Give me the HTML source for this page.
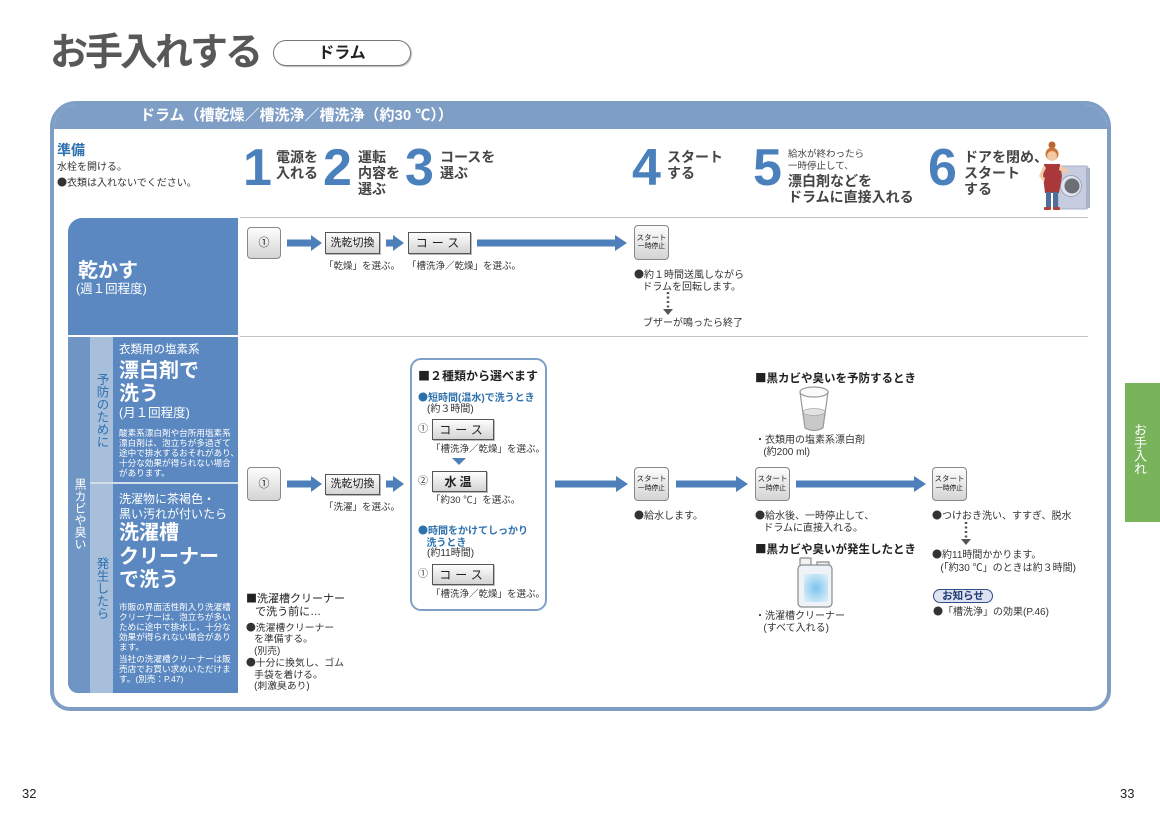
<!DOCTYPE html>
<html><head><meta charset="utf-8">
<style>
*{margin:0;padding:0;box-sizing:border-box}
body{width:1160px;height:820px;position:relative;overflow:hidden;background:#fff;font-family:"Liberation Sans","Noto Sans CJK JP",sans-serif;color:#333}
.t{position:absolute;white-space:nowrap;line-height:1}
.b{font-weight:bold}
.w{color:#fff}
.bl{color:#2c70ad}
.d{font-family:"Noto Sans CJK JP",sans-serif}
.btn{position:absolute;border:1px solid #555;background:linear-gradient(#fdfdfd,#d4d4d4);display:flex;align-items:center;justify-content:center;font-size:11px;color:#222;white-space:nowrap;line-height:1;box-shadow:1px 1px 0 #bbb}
.sq{border-color:#888;border-radius:4px;box-shadow:none}
.st{flex-direction:column;gap:3px}
.st span:first-child{font-size:7.5px}
.st span:last-child{font-size:6.8px}
.num{position:absolute;font-family:"Liberation Sans",sans-serif;font-weight:bold;font-size:52px;line-height:1;color:#4a80bb}
.vt{position:absolute;writing-mode:vertical-rl;line-height:1;white-space:nowrap}
</style></head><body>

<!-- Title -->
<div class="t b" style="left:50px;top:34px;font-size:38px;letter-spacing:-3px;color:#585858">お手入れする</div>
<div style="position:absolute;left:273px;top:40px;width:138px;height:26px;border:1.5px solid #777;border-radius:13px;box-shadow:1px 1px 1px #bbb"></div>
<div class="t b" style="left:273px;top:45.5px;width:138px;text-align:center;font-size:16px;color:#222">ドラム</div>

<!-- Frame -->
<div style="position:absolute;left:50px;top:101px;width:1061px;height:610px;border:4px solid #7f9ec6;border-radius:26px 26px 20px 20px;overflow:hidden;background:#fff">
  <div style="position:absolute;left:0;top:0;right:0;height:24px;background:#7f9ec6"></div>
</div>
<div class="t b w" style="left:140px;top:108px;font-size:15px">ドラム（槽乾燥／槽洗浄／槽洗浄（約30 ℃））</div>

<!-- Left columns -->
<div style="position:absolute;left:68px;top:218px;width:170px;height:117px;background:#5b88c1;border-top-left-radius:14px"></div>
<div style="position:absolute;left:68px;top:337px;width:22px;height:356px;background:#6f95c5;border-bottom-left-radius:10px"></div>
<div style="position:absolute;left:90px;top:337px;width:23px;height:356px;background:#a8bfdc"></div>
<div style="position:absolute;left:113px;top:337px;width:125px;height:356px;background:#5b88c1"></div>
<div style="position:absolute;left:90px;top:482px;width:148px;height:2px;background:#d3deec"></div>

<!-- Graphics -->
<svg width="1160" height="820" style="position:absolute;left:0;top:0" xmlns="http://www.w3.org/2000/svg">
  <g stroke="#c4c4c4" stroke-width="1">
    <line x1="240" y1="217.5" x2="1088" y2="217.5"/>
    <line x1="240" y1="336.5" x2="1088" y2="336.5"/>
  </g>
  <g fill="#4d80ba">
    <rect x="287" y="239.5" width="25" height="7"/><polygon points="311,235 322,243 311,251"/>
    <rect x="386" y="239.5" width="8" height="7"/><polygon points="393,235 404,243 393,251"/>
    <rect x="477" y="239.5" width="139" height="7"/><polygon points="615,235 627,243 615,251"/>
    <rect x="287" y="480.5" width="25" height="7"/><polygon points="311,476 322,484 311,492"/>
    <rect x="386" y="480.5" width="8" height="7"/><polygon points="393,476 404,484 393,492"/>
    <rect x="555" y="480.5" width="62" height="7"/><polygon points="616,476 628,484 616,492"/>
    <rect x="676" y="480.5" width="61" height="7"/><polygon points="736,476 748,484 736,492"/>
    <rect x="796" y="480.5" width="119" height="7"/><polygon points="914,476 926,484 914,492"/>
    <polygon points="452,458 466,458 459,465"/>
  </g>
  <rect x="411" y="359" width="135" height="251" rx="10" fill="none" stroke="#7fa0c8" stroke-width="2"/>
  <g stroke="#555" stroke-width="2.5" stroke-dasharray="2 2.5">
    <line x1="668" y1="292" x2="668" y2="308"/>
    <line x1="966" y1="522" x2="966" y2="538"/>
  </g>
  <g fill="#555">
    <polygon points="663,309 673,309 668,315"/>
    <polygon points="961,539 971,539 966,545"/>
  </g>
  <g>
    <path d="M803,412 L805,428 Q814,433 823,428 L825,412 Z" fill="#c9c9c9"/>
    <ellipse cx="814" cy="412" rx="11" ry="3.5" fill="#e2e2e2" stroke="#aaa" stroke-width="0.8"/>
    <ellipse cx="814" cy="392" rx="14" ry="5" fill="#fafafa" stroke="#999" stroke-width="1.2"/>
    <line x1="800" y1="392" x2="805" y2="428" stroke="#999" stroke-width="1.2"/>
    <line x1="828" y1="392" x2="823" y2="428" stroke="#999" stroke-width="1.2"/>
    <path d="M805,428 Q814,433 823,428" fill="none" stroke="#999" stroke-width="1.2"/>
  </g>
  <defs>
    <radialGradient id="jg" cx="0.5" cy="0.5" r="0.6">
      <stop offset="0" stop-color="#7cc4ef"/><stop offset="1" stop-color="#d6ecf8"/>
    </radialGradient>
  </defs>
  <g stroke="#8a8a8a" stroke-width="1.2">
    <rect x="800" y="558" width="11" height="8" rx="1" fill="#f2f2f2"/>
    <path d="M817,562 h12 v10 h-4 v-6 h-8 z" fill="#f2f2f2"/>
    <rect x="798" y="565" width="34" height="42" rx="4" fill="#eef3f7"/>
    <rect x="804" y="574" width="24" height="28" rx="2" fill="url(#jg)" stroke="none"/>
  </g>
  <g>
    <rect x="1058" y="166" width="30" height="43" rx="2" fill="#c7cde0" stroke="#a7b0c8"/>
    <rect x="1086" y="168" width="4" height="40" fill="#aab2c8"/>
    <circle cx="1071" cy="186" r="10.5" fill="#dfe3ec" stroke="#9aa2b8" stroke-width="1"/>
    <circle cx="1072" cy="186" r="7.5" fill="#6d6d74"/>
    <circle cx="1052" cy="145" r="3.5" fill="#b8652e"/>
    <circle cx="1052" cy="154" r="6.5" fill="#c8763a"/>
    <circle cx="1052" cy="156" r="5" fill="#f2c9a2"/>
    <path d="M1044,164 L1060,164 L1062,176 L1059,193 L1045,193 L1043,176 Z" fill="#a8383a"/>
    <path d="M1060,165 L1069,171 L1067,174 L1059,170 Z" fill="#f2c9a2"/>
    <path d="M1044,165 L1039,176 L1044,182 L1045,178 L1042,176 L1046,168 Z" fill="#f2c9a2"/>
    <rect x="1046" y="192" width="5" height="16" fill="#4d6f9a"/>
    <rect x="1053" y="192" width="5" height="16" fill="#4d6f9a"/>
    <rect x="1044" y="207" width="7" height="3" rx="1" fill="#b0403a"/>
    <rect x="1053" y="207" width="7" height="3" rx="1" fill="#b0403a"/>
  </g>
</svg>

<!-- Header area -->
<div class="t b bl" style="left:57px;top:143px;font-size:14px">準備</div>
<div class="t" style="left:57px;top:162.5px;font-size:10px">水栓を開ける。</div>
<div class="t" style="left:57px;top:176.5px;font-size:10px"><span class="d">●</span>衣類は入れないでください。</div>

<div class="num" style="left:243px;top:141.5px">1</div>
<div class="t b" style="left:276px;top:149px;font-size:14px;line-height:16px;color:#444">電源を<br>入れる</div>
<div class="num" style="left:323px;top:141.5px">2</div>
<div class="t b" style="left:358px;top:149px;font-size:14px;line-height:16px;color:#444">運転<br>内容を<br>選ぶ</div>
<div class="num" style="left:405px;top:141.5px">3</div>
<div class="t b" style="left:440px;top:149px;font-size:14px;line-height:16px;color:#444">コースを<br>選ぶ</div>
<div class="num" style="left:632px;top:141.5px">4</div>
<div class="t b" style="left:667px;top:149px;font-size:14px;line-height:16px;color:#444">スタート<br>する</div>
<div class="num" style="left:753px;top:141.5px">5</div>
<div class="t" style="left:788px;top:149px;font-size:9.5px;line-height:12px;color:#444">給水が終わったら<br>一時停止して、</div>
<div class="t b" style="left:788px;top:173px;font-size:14px;line-height:16px;color:#444">漂白剤などを<br>ドラムに直接入れる</div>
<div class="num" style="left:928px;top:141.5px">6</div>
<div class="t b" style="left:964px;top:149px;font-size:14px;line-height:16px;color:#444">ドアを閉め、<br>スタート<br>する</div>

<!-- Left column texts -->
<div class="t b w" style="left:78px;top:260.5px;font-size:20px">乾かす</div>
<div class="t w" style="left:76px;top:283px;font-size:12.5px">(週１回程度)</div>

<div class="vt w" style="left:74px;top:478px;font-size:12px">黒カビや臭い</div>
<div class="vt bl" style="left:95px;top:373px;font-size:12.5px">予防のために</div>
<div class="vt bl" style="left:95px;top:557px;font-size:12.5px">発生したら</div>

<div class="t w" style="left:119px;top:344.5px;font-size:11.5px">衣類用の塩素系</div>
<div class="t b w" style="left:119px;top:359.5px;font-size:20px;line-height:23px">漂白剤で<br>洗う</div>
<div class="t w" style="left:119px;top:407px;font-size:12.5px">(月１回程度)</div>
<div class="t w" style="left:119px;top:428px;font-size:8.6px;line-height:10px">酸素系漂白剤や台所用塩素系<br>漂白剤は、泡立ちが多過ぎて<br>途中で排水するおそれがあり、<br>十分な効果が得られない場合<br>があります。</div>

<div class="t w" style="left:119px;top:491.5px;font-size:12px;line-height:15px">洗濯物に茶褐色・<br>黒い汚れが付いたら</div>
<div class="t b w" style="left:119px;top:522px;font-size:20px;line-height:23.5px">洗濯槽<br>クリーナー<br>で洗う</div>
<div class="t w" style="left:119px;top:602px;font-size:8.6px;line-height:10px">市販の界面活性剤入り洗濯槽<br>クリーナーは、泡立ちが多い<br>ために途中で排水し、十分な<br>効果が得られない場合があり<br>ます。</div>
<div class="t w" style="left:119px;top:654px;font-size:8.6px;line-height:10px">当社の洗濯槽クリーナーは販<br>売店でお買い求めいただけま<br>す。(別売：P.47)</div>

<!-- Row 1 -->
<div class="btn sq" style="left:247px;top:227px;width:34px;height:32px">①</div>
<div class="btn" style="left:325px;top:232px;width:55px;height:22px">洗乾切換</div>
<div class="btn" style="left:408px;top:232px;width:63px;height:22px;font-size:12px;letter-spacing:4px">コース</div>
<div class="btn sq st" style="left:634px;top:225px;width:35px;height:35px"><span>スタート</span><span>一時停止</span></div>
<div class="t" style="left:324px;top:261.5px;font-size:9.5px">「乾燥」を選ぶ。</div>
<div class="t" style="left:407px;top:261.5px;font-size:9.5px">「槽洗浄／乾燥」を選ぶ。</div>
<div class="t" style="left:634px;top:268px;font-size:10px;line-height:12px"><span class="d">●</span>約１時間送風しながら<br>&nbsp;&nbsp;&nbsp;ドラムを回転します。</div>
<div class="t" style="left:643px;top:319.3px;font-size:10px">ブザーが鳴ったら終了</div>

<!-- Row 2 -->
<div class="btn sq" style="left:247px;top:467px;width:34px;height:34px">①</div>
<div class="btn" style="left:325px;top:474px;width:55px;height:21px">洗乾切換</div>
<div class="t" style="left:324px;top:502.5px;font-size:9.5px">「洗濯」を選ぶ。</div>

<div class="t b" style="left:418px;top:369.5px;font-size:12px;color:#222"><span class="d">■</span>２種類から選べます</div>
<div class="t b bl" style="left:418px;top:391.5px;font-size:10px"><span class="d">●</span>短時間(温水)で洗うとき</div>
<div class="t" style="left:427px;top:404.5px;font-size:10px">(約３時間)</div>
<div class="t" style="left:418px;top:424.5px;font-size:10px">①</div>
<div class="btn" style="left:432px;top:419px;width:62px;height:21px;font-size:12px;letter-spacing:4px">コース</div>
<div class="t" style="left:431px;top:444.5px;font-size:9.5px">「槽洗浄／乾燥」を選ぶ。</div>
<div class="t" style="left:418px;top:476.5px;font-size:10px">②</div>
<div class="btn" style="left:432px;top:471px;width:55px;height:21px;font-size:12px;font-weight:bold;letter-spacing:3px">水温</div>
<div class="t" style="left:431px;top:495.5px;font-size:9.5px">「約30 ℃」を選ぶ。</div>
<div class="t b bl" style="left:418px;top:524px;font-size:10px;line-height:12px"><span class="d">●</span>時間をかけてしっかり<br>&nbsp;&nbsp;&nbsp;洗うとき</div>
<div class="t" style="left:427px;top:548.5px;font-size:10px">(約11時間)</div>
<div class="t" style="left:418px;top:570px;font-size:10px">①</div>
<div class="btn" style="left:432px;top:564px;width:62px;height:21px;font-size:12px;letter-spacing:4px">コース</div>
<div class="t" style="left:431px;top:589.5px;font-size:9.5px">「槽洗浄／乾燥」を選ぶ。</div>

<div class="t" style="left:246px;top:591.5px;font-size:11px;line-height:13px;color:#222"><span class="d">■</span>洗濯槽クリーナー<br>&nbsp;&nbsp;&nbsp;で洗う前に…</div>
<div class="t" style="left:246px;top:621.5px;font-size:9.8px;line-height:11.5px"><span class="d">●</span>洗濯槽クリーナー<br>&nbsp;&nbsp;&nbsp;を準備する。<br>&nbsp;&nbsp;&nbsp;(別売)</div>
<div class="t" style="left:246px;top:657px;font-size:9.8px;line-height:11.5px"><span class="d">●</span>十分に換気し、ゴム<br>&nbsp;&nbsp;&nbsp;手袋を着ける。<br>&nbsp;&nbsp;&nbsp;(刺激臭あり)</div>

<div class="btn sq st" style="left:634px;top:467px;width:35px;height:34px"><span>スタート</span><span>一時停止</span></div>
<div class="t" style="left:634px;top:509.5px;font-size:10px"><span class="d">●</span>給水します。</div>
<div class="btn sq st" style="left:755px;top:467px;width:35px;height:34px"><span>スタート</span><span>一時停止</span></div>
<div class="t" style="left:755px;top:509px;font-size:10px;line-height:12px"><span class="d">●</span>給水後、一時停止して、<br>&nbsp;&nbsp;&nbsp;ドラムに直接入れる。</div>
<div class="btn sq st" style="left:932px;top:467px;width:35px;height:34px"><span>スタート</span><span>一時停止</span></div>
<div class="t" style="left:932px;top:509.5px;font-size:10px"><span class="d">●</span>つけおき洗い、すすぎ、脱水</div>
<div class="t" style="left:932px;top:547px;font-size:10px;line-height:13px"><span class="d">●</span>約11時間かかります。<br>&nbsp;&nbsp;&nbsp;(「約30 ℃」のときは約３時間)</div>
<div style="position:absolute;left:933px;top:589px;width:60px;height:14px;border:1.5px solid #2e4e8a;border-radius:7px;background:#dfe3f1"></div>
<div class="t b" style="left:933px;top:591px;width:60px;text-align:center;font-size:10.5px;color:#1d3a73">お知らせ</div>
<div class="t" style="left:933px;top:606px;font-size:10px"><span class="d">●</span>「槽洗浄」の効果(P.46)</div>

<div class="t b" style="left:755px;top:372.5px;font-size:11.5px;color:#222"><span class="d">■</span>黒カビや臭いを予防するとき</div>
<div class="t" style="left:755px;top:435px;font-size:10px;line-height:12px">・衣類用の塩素系漂白剤<br>&nbsp;&nbsp;&nbsp;(約200 ml)</div>
<div class="t b" style="left:755px;top:544px;font-size:11.5px;color:#222"><span class="d">■</span>黒カビや臭いが発生したとき</div>
<div class="t" style="left:755px;top:611px;font-size:10px;line-height:12px">・洗濯槽クリーナー<br>&nbsp;&nbsp;&nbsp;(すべて入れる)</div>

<!-- Side tab -->
<div style="position:absolute;left:1125px;top:383px;width:35px;height:139px;background:#79b35b"></div>
<div class="vt w" style="left:1133px;top:423px;font-size:13px">お手入れ</div>

<!-- Page numbers -->
<div class="t" style="left:22px;top:787px;font-size:13px;color:#222">32</div>
<div class="t" style="left:1120px;top:787px;font-size:13px;color:#222">33</div>

</body></html>
